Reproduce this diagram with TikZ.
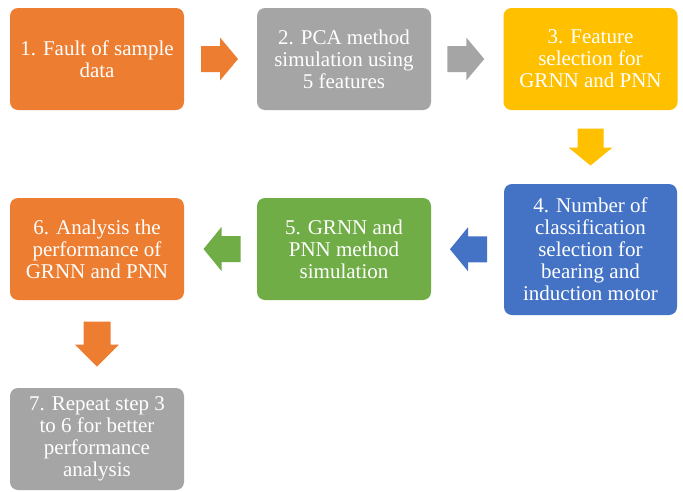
\documentclass[tikz,border=0pt]{standalone}
\usepackage{fontspec}
\setmainfont{Liberation Serif}
\usetikzlibrary{calc}
\definecolor{orangec}{HTML}{ED7D31}
\definecolor{grayc}{HTML}{A5A5A5}
\definecolor{yellowc}{HTML}{FFC000}
\definecolor{bluec}{HTML}{4472C4}
\definecolor{greenc}{HTML}{70AD47}
% #1 colour, #2 centre, #3 rotation, #4 half length, #5 head length, #6 shaft half width, #7 head half width
\newcommand\blockarrow[7]{%
  \fill[#1,shift={#2},rotate=#3] (-#4,-#6) -- (#4-#5,-#6) -- (#4-#5,-#7) -- (#4,0) -- (#4-#5,#7) -- (#4-#5,#6) -- (-#4,#6) -- cycle;}
\begin{document}
\begin{tikzpicture}[x=1pt,y=-1pt,
  box/.style={rounded corners=8pt, inner sep=0pt, text=white, align=center,
    font=\fontsize{21}{22}\selectfont, minimum width=174pt, minimum height=102pt}]
\useasboundingbox (0,0) rectangle (683,491);
\fill[white] (0,0) rectangle (683,491);
\node[box, fill=orangec] (b1) at (97,59) {1. Fault of sample\\data};
\node[box, fill=grayc] (b2) at (344,59) {2. PCA method\\simulation using\\5 features};
\node[box, fill=yellowc] (b3) at (590.5,59) {3. Feature\\selection for\\GRNN and PNN};
\node[box, fill=bluec, minimum width=173pt, minimum height=131pt] (b4) at (590.5,249.5) {4. Number of\\classification\\selection for\\bearing and\\induction motor};
\node[box, fill=greenc] (b5) at (344,249) {5. GRNN and\\PNN method\\simulation};
\node[box, fill=orangec] (b6) at (97,249) {6. Analysis the\\performance of\\GRNN and PNN};
\node[box, fill=grayc] (b7) at (97,439) {7. Repeat step 3\\to 6 for better\\performance\\analysis};
\blockarrow{orangec}{($(b1.east)!0.5!(b2.west)+(-1,0)$)}{0}{18.5}{18}{13}{21.5}
\blockarrow{grayc}{($(b2.east)!0.5!(b3.west)+(-1.5,0)$)}{0}{18.5}{18}{13}{21.5}
\blockarrow{yellowc}{($(b3.south)!0.5!(b4.north)$)}{-90}{18.5}{18}{13}{22}
\blockarrow{bluec}{($(b4.west)!0.5!(b5.east)+(1,0)$)}{180}{18.5}{18}{13}{22}
\blockarrow{greenc}{($(b5.west)!0.5!(b6.east)+(1.5,0)$)}{180}{18.5}{18}{13}{22}
\blockarrow{orangec}{($(b6.south)!0.5!(b7.north)$)}{-90}{22.5}{22}{13.5}{22}
\end{tikzpicture}
\end{document}
